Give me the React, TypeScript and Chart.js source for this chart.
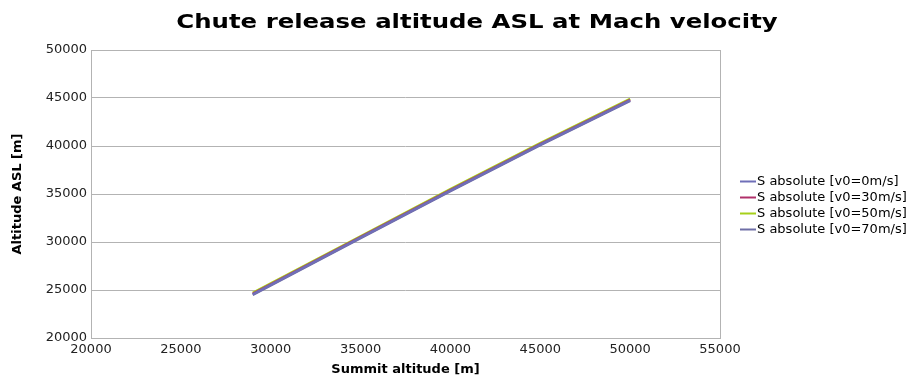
import React, { useEffect, useRef } from "react";
import { Chart, registerables } from "chart.js";

Chart.register(...registerables);

// Summit altitude [m] (x) and chute release altitude ASL [m] for each initial velocity
const summitAltitude = [29000, 35000, 40000, 45000, 50000];
const releaseV0 = [24550, 30450, 35350, 40150, 44750];
const releaseV30 = [24600, 30500, 35400, 40200, 44800];
const releaseV50 = [24700, 30600, 35500, 40300, 44900];
const releaseV70 = [24500, 30400, 35300, 40100, 44700];

const seriesLabels = [
  "S absolute [v0=0m/s]",
  "S absolute [v0=30m/s]",
  "S absolute [v0=50m/s]",
  "S absolute [v0=70m/s]",
];
const seriesColors = ["#6f6fb8", "#b0306a", "#a6d01a", "#6e6ea6"];

const xTicks = [20000, 25000, 30000, 35000, 40000, 45000, 50000, 55000];
const yTicks = [20000, 25000, 30000, 35000, 40000, 45000, 50000];

const chartTitle = "Chute release altitude ASL at Mach velocity";
const xTitle = "Summit altitude [m]";
const yTitle = "Altitude ASL [m]";

const FONT = "'DejaVu Sans', sans-serif";

// Title drawn with a slightly widened glyph shape
const titlePlugin = {
  id: "centerTitle",
  afterDraw(chart: any) {
    const ctx = chart.ctx;
    ctx.save();
    ctx.translate(477, 23);
    ctx.scale(1.22, 1);
    ctx.font = `bold 20px ${FONT}`;
    ctx.fillStyle = "#000";
    ctx.textAlign = "center";
    ctx.textBaseline = "middle";
    ctx.fillText(chartTitle, 0, 0);
    ctx.restore();
  },
};

const sideLegend = {
  id: "sideLegend",
  afterDraw(chart: any) {
    const ctx = chart.ctx;
    ctx.save();
    ctx.font = `13px ${FONT}`;
    ctx.textBaseline = "middle";
    ctx.textAlign = "left";
    chart.data.datasets.forEach((ds: any, i: number) => {
      const y = 181.5 + i * 16;
      ctx.strokeStyle = ds.borderColor;
      ctx.lineWidth = 2;
      ctx.beginPath();
      ctx.moveTo(740, y);
      ctx.lineTo(756, y);
      ctx.stroke();
      ctx.fillStyle = "#000";
      ctx.fillText(ds.label, 757, y);
    });
    ctx.restore();
  },
};

const plotFrame = {
  id: "plotFrame",
  beforeDatasetsDraw(chart: any) {
    const { ctx, chartArea } = chart;
    ctx.save();
    ctx.strokeStyle = "#b3b3b3";
    ctx.lineWidth = 1;
    ctx.strokeRect(
      Math.round(chartArea.left) + 0.5,
      Math.round(chartArea.top) + 0.5,
      Math.round(chartArea.right - chartArea.left),
      Math.round(chartArea.bottom - chartArea.top)
    );
    ctx.restore();
  },
};

export default function App() {
  const canvasRef = useRef<HTMLCanvasElement | null>(null);

  useEffect(() => {
    if (!canvasRef.current) return;
    const series = [releaseV0, releaseV30, releaseV50, releaseV70];
    const chart = new Chart(canvasRef.current, {
      type: "line",
      data: {
        datasets: series.map((vals, i) => ({
          label: seriesLabels[i],
          data: summitAltitude.map((x, j) => ({ x, y: vals[j] })),
          borderColor: seriesColors[i],
          backgroundColor: seriesColors[i],
          borderWidth: 2.5,
          pointRadius: 0,
          tension: 0,
        })),
      },
      options: {
        animation: false,
        responsive: false,
        devicePixelRatio: 1,
        layout: { padding: { left: 0, top: 50, right: 195, bottom: 0 } },
        plugins: {
          legend: { display: false },
          tooltip: { enabled: false },
          title: { display: false },
        },
        scales: {
          x: {
            type: "linear",
            min: 20000,
            max: 55000,
            afterBuildTicks: (s: any) => {
              s.ticks = xTicks.map((v) => ({ value: v }));
            },
            afterFit: (s: any) => {
              s.height = 40;
            },
            grid: { display: false, drawTicks: false },
            border: { display: false },
            ticks: {
              color: "#222",
              font: { family: FONT, size: 13 },
              padding: 4,
              maxRotation: 0,
              autoSkip: false,
              callback: (v: any) => String(v),
            },
            title: {
              display: true,
              text: xTitle,
              color: "#000",
              font: { family: FONT, size: 13, weight: "bold" },
              padding: { top: 0, bottom: 1 },
            },
          },
          y: {
            type: "linear",
            min: 20000,
            max: 50000,
            afterBuildTicks: (s: any) => {
              s.ticks = yTicks.map((v) => ({ value: v }));
            },
            afterFit: (s: any) => {
              s.width = 91;
            },
            grid: {
              color: "#b3b3b3",
              lineWidth: 1,
              drawTicks: false,
            },
            border: { display: false },
            ticks: {
              color: "#222",
              font: { family: FONT, size: 13 },
              padding: 4,
              autoSkip: false,
              callback: (v: any) => String(v),
            },
            title: {
              display: true,
              text: yTitle,
              color: "#000",
              font: { family: FONT, size: 13, weight: "bold" },
              padding: { top: 10, bottom: 0 },
            },
          },
        },
      },
      plugins: [plotFrame, titlePlugin, sideLegend],
    });
    return () => chart.destroy();
  }, []);

  return (
    <div style={{ position: "absolute", left: 0, top: 0, width: 915, height: 378, background: "#fff" }}>
      <canvas ref={canvasRef} width={915} height={378} style={{ display: "block" }} />
    </div>
  );
}
